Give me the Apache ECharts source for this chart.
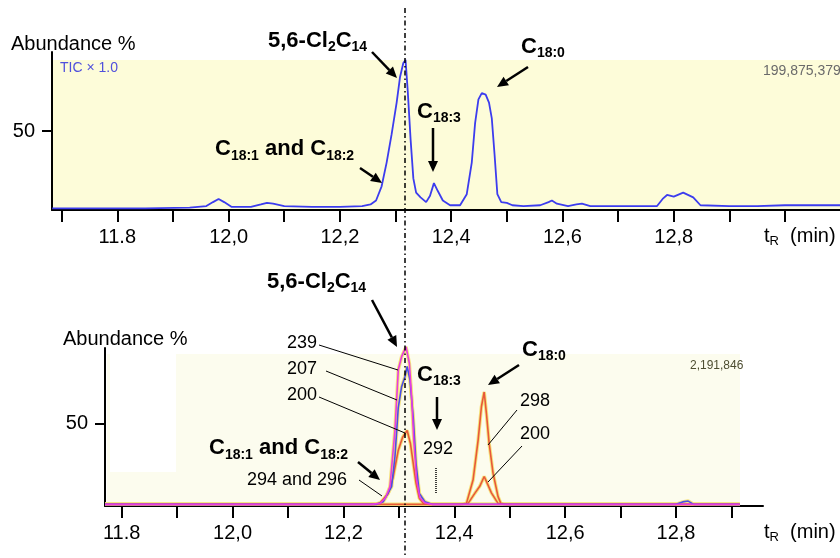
<!DOCTYPE html>
<html><head><meta charset="utf-8">
<script src="https://cdn.jsdelivr.net/npm/echarts@6/dist/echarts.min.js"></script>
<style>html,body{margin:0;padding:0;background:#fff}#c{width:840px;height:558px}</style>
</head><body><div id="c"></div>
<script>
// ---------- DATA ----------
// Top panel: total ion current (TIC), retention time (min) vs abundance (%)
const ticTime = [11.683, 11.75, 11.85, 11.93, 11.96, 11.972, 11.982, 11.992, 12.005, 12.04, 12.058, 12.069, 12.08, 12.10, 12.15, 12.20, 12.24, 12.255, 12.265, 12.275, 12.284, 12.293, 12.302, 12.308, 12.314, 12.318, 12.322, 12.327, 12.332, 12.337, 12.345, 12.355, 12.362, 12.369, 12.376, 12.385, 12.398, 12.416, 12.428, 12.437, 12.443, 12.449, 12.455, 12.462, 12.468, 12.473, 12.478, 12.483, 12.49, 12.50, 12.51, 12.53, 12.56, 12.575, 12.581, 12.59, 12.61, 12.625, 12.635, 12.65, 12.70, 12.77, 12.78, 12.788, 12.80, 12.817, 12.835, 12.848, 12.90, 12.95, 13.00, 13.05, 13.099];
const ticAbund = [1, 1, 1, 1.5, 2.5, 5, 7, 5, 2, 2, 3.5, 4.5, 4, 2.5, 2, 2, 2.5, 3.5, 6, 15, 30, 48, 68, 84, 93, 95, 75, 45, 20, 11, 8, 5, 9, 17, 12, 6, 3, 3, 10, 30, 55, 70, 74, 73, 68, 58, 35, 10, 5, 4.5, 3, 2.5, 3, 5, 6, 4, 2.5, 3.5, 4, 2.5, 2.5, 2.5, 7, 9.5, 8.5, 11, 8, 3, 2.5, 2.5, 3, 3, 3];

// Bottom panel: extracted ions
const ion239Time = [11.77, 12.25, 12.266, 12.276, 12.284, 12.293, 12.299, 12.305, 12.313, 12.319, 12.323, 12.327, 12.332, 12.338, 12.347, 12.36, 12.915];
const ion239Abund = [1, 1, 1.6, 5, 11.8, 46, 83, 91, 97, 87, 67, 40, 16, 5, 1.8, 1, 1];
const ion207Time = [11.77, 12.26, 12.272, 12.287, 12.293, 12.299, 12.305, 12.311, 12.315, 12.32, 12.326, 12.331, 12.337, 12.347, 12.36, 12.80, 12.812, 12.822, 12.832, 12.915];
const ion207Abund = [1, 1, 2.6, 11.8, 30, 60, 72.7, 78.8, 85, 77, 54, 26, 7.7, 2.6, 1, 1, 2.5, 3, 1, 1];
const ion200Time = [11.77, 12.255, 12.266, 12.281, 12.29, 12.299, 12.307, 12.315, 12.321, 12.326, 12.331, 12.337, 12.344, 12.355, 12.415, 12.425, 12.437, 12.446, 12.454, 12.458, 12.467, 12.479, 12.49, 12.915];
const ion200Abund = [1, 1, 1.8, 7.7, 18, 34, 42, 46, 38, 26, 14, 4.7, 1.6, 1, 1, 1.6, 7.7, 12, 18, 15, 8, 1.6, 1, 1];
const ion298Time = [11.77, 12.41, 12.422, 12.434, 12.443, 12.449, 12.454, 12.458, 12.463, 12.47, 12.479, 12.484, 12.495, 12.915];
const ion298Abund = [1, 1, 1.6, 16, 40, 60.5, 69.5, 56.5, 38, 20, 5.7, 1.6, 1, 1];

// Axis ticks / labels
const topTickValues = [11.7, 11.8, 11.9, 12.0, 12.1, 12.2, 12.3, 12.4, 12.5, 12.6, 12.7, 12.8, 12.9, 13.0];
const botTickValues = [11.8, 11.9, 12.0, 12.1, 12.2, 12.3, 12.4, 12.5, 12.6, 12.7, 12.8, 12.9];
const xLabelValues = [11.8, 12.0, 12.2, 12.4, 12.6, 12.8];
const xLabelTexts = ['11.8', '12,0', '12,2', '12,4', '12,6', '12,8'];
const yLabelValues = [50];
const yLabelTexts = ['50'];

// ---------- RENDER ----------
const FONT = '"Liberation Sans", Arial, Helvetica, sans-serif';
const mctx = document.createElement('canvas').getContext('2d');
function tw(s, size, bold) { mctx.font = (bold ? 'bold ' : '') + size + 'px ' + FONT; return mctx.measureText(s).width; }
function txt(s, x, base, size, o) {
  o = o || {};
  const f = (o.bold ? 'bold ' : '') + size + 'px ' + FONT;
  return { type: 'text', z: 100, silent: true,
    style: { text: s, x: x, y: base - 0.35 * size, font: f, fill: o.color || '#000',
      textAlign: o.align || 'left', align: o.align || 'left', textVerticalAlign: 'middle', verticalAlign: 'middle' } };
}
function richLabel(x, base, parts, mainSize, subSize, shift, bold) {
  const els = []; let cx = x;
  parts.forEach(function (p) {
    const size = p[1] ? subSize : mainSize;
    els.push(txt(p[0], cx, base + (p[1] ? shift : 0), size, { bold: bold }));
    cx += tw(p[0], size, bold);
  });
  return els;
}
function arrow(x1, y1, x2, y2) {
  const a = Math.atan2(y2 - y1, x2 - x1), L = 11, W = 5;
  const bx = x2 - L * Math.cos(a), by = y2 - L * Math.sin(a);
  const px = -Math.sin(a) * W, py = Math.cos(a) * W;
  return [
    { type: 'line', z: 100, silent: true, shape: { x1: x1, y1: y1, x2: bx, y2: by }, style: { stroke: '#000', lineWidth: 2.5 } },
    { type: 'polygon', z: 100, silent: true, shape: { points: [[x2, y2], [bx + px, by + py], [bx - px, by - py]] }, style: { fill: '#000' } }
  ];
}
function leader(x1, y1, x2, y2) {
  return { type: 'line', z: 100, silent: true, shape: { x1: x1, y1: y1, x2: x2, y2: y2 }, style: { stroke: '#000', lineWidth: 1 } };
}
function pairs(t, v) { return t.map(function (x, i) { return [x, v[i]]; }); }
function xFmt(v) {
  for (let i = 0; i < xLabelValues.length; i++) if (Math.abs(v - xLabelValues[i]) < 1e-6) return xLabelTexts[i];
  return '';
}
function yFmt(v) {
  for (let i = 0; i < yLabelValues.length; i++) if (Math.abs(v - yLabelValues[i]) < 1e-6) return yLabelTexts[i];
  return '';
}

const chart = echarts.init(document.getElementById('c'), null, { renderer: 'canvas' });

function xAxisDef(gi, min, max, ticks) {
  return { type: 'value', gridIndex: gi, min: min, max: max,
    axisLine: { show: true, onZero: false, lineStyle: { color: '#000', width: 2 } },
    axisTick: { show: true, customValues: ticks, length: 12, lineStyle: { color: '#000', width: 2 } },
    axisLabel: { show: true, customValues: xLabelValues, formatter: xFmt, fontSize: 20, fontFamily: FONT, color: '#000', margin: 17 },
    splitLine: { show: false } };
}
function yAxisDef(gi, max) {
  return { type: 'value', gridIndex: gi, min: 0, max: max,
    axisLine: { show: true, onZero: false, lineStyle: { color: '#000', width: 2 } },
    axisTick: { show: true, customValues: yLabelValues, length: 10, lineStyle: { color: '#000', width: 2 } },
    axisLabel: { show: true, customValues: yLabelValues, formatter: yFmt, fontSize: 20, fontFamily: FONT, color: '#000', margin: 17 },
    splitLine: { show: false } };
}
function lineSeries(xi, data, color, width, z) {
  return { type: 'line', xAxisIndex: xi, yAxisIndex: xi, data: data, showSymbol: false, symbol: 'none',
    clip: false, silent: true, z: z, lineStyle: { color: color, width: width }, animation: false };
}
const HALO = '#f5e37c';
const series = [
  lineSeries(0, pairs(ticTime, ticAbund), '#3c3cee', 1.8, 5),
  lineSeries(1, pairs(ion298Time, ion298Abund), HALO, 3.5, 3),
  lineSeries(1, pairs(ion200Time, ion200Abund), HALO, 3.5, 3),
  lineSeries(1, pairs(ion207Time, ion207Abund), HALO, 3.5, 3),
  lineSeries(1, pairs(ion239Time, ion239Abund), HALO, 3.5, 3),
  lineSeries(1, pairs(ion298Time, ion298Abund), '#e8583a', 1.6, 5),
  lineSeries(1, pairs(ion200Time, ion200Abund), '#e8583a', 1.6, 5),
  lineSeries(1, pairs(ion207Time, ion207Abund), '#4a4ee8', 1.6, 6),
  lineSeries(1, pairs(ion239Time, ion239Abund), '#e83ce0', 1.6, 7)
];

let g = [];
// panel backgrounds
g.push({ type: 'rect', z: -5, silent: true, shape: { x: 52, y: 60, width: 788, height: 150 }, style: { fill: '#fdfcd9' } });
g.push({ type: 'rect', z: -5, silent: true, shape: { x: 107, y: 354, width: 633, height: 152 }, style: { fill: '#fcfcee' } });
g.push({ type: 'rect', z: -4, silent: true, shape: { x: 110, y: 354, width: 66, height: 118 }, style: { fill: '#ffffff' } });
// instrument texts
g.push(txt('TIC \u00d7 1.0', 60, 73, 14, { color: '#5050dc' }));
g.push(txt('199,875,379', 763, 76, 14, { color: '#6a6a6a' }));
g.push(txt('2,191,846', 690, 370, 12, { color: '#4d4d30' }));
// axis titles
g.push(txt('Abundance %', 11, 51, 20));
g.push(txt('Abundance %', 63, 346, 20));
g = g.concat(richLabel(764, 243, [['t', 0], ['R', 1], ['  (min)', 0]], 20, 13, 3, false));
g = g.concat(richLabel(764, 539, [['t', 0], ['R', 1], ['  (min)', 0]], 20, 13, 3, false));
// dash-dot retention marker
g.push({ type: 'line', z: 100, silent: true, shape: { x1: 405, y1: 8, x2: 405, y2: 558 }, style: { stroke: '#000', lineWidth: 1.5, lineDash: [5, 3, 1.5, 3] } });
// top annotations
const CL = [['5,6-Cl', 0], ['2', 1], ['C', 0], ['14', 1]];
const C181 = [['C', 0], ['18:1', 1], [' and C', 0], ['18:2', 1]];
g = g.concat(richLabel(268, 49, CL, 22, 14, 3.5, true));
g = g.concat(richLabel(521, 55, [['C', 0], ['18:0', 1]], 22, 14, 3.5, true));
g = g.concat(richLabel(417, 120, [['C', 0], ['18:3', 1]], 22, 14, 3.5, true));
g = g.concat(richLabel(215, 157, C181, 22, 14, 4, true));
g = g.concat(arrow(372, 52, 397, 78), arrow(528, 67, 497, 87), arrow(433, 128, 433, 172), arrow(360, 168, 382, 183));
// bottom annotations
g = g.concat(richLabel(267, 290, CL, 22, 14, 3.5, true));
g = g.concat(richLabel(522, 358, [['C', 0], ['18:0', 1]], 22, 14, 3.5, true));
g = g.concat(richLabel(417, 383, [['C', 0], ['18:3', 1]], 22, 14, 3.5, true));
g = g.concat(richLabel(209, 456, C181, 22, 14, 4, true));
g = g.concat(arrow(372, 300, 397, 347), arrow(519, 365, 488, 385), arrow(437, 397, 437, 430), arrow(358, 462, 380, 480));
g.push(txt('239', 287, 349, 18), txt('207', 287, 375, 18), txt('200', 287, 401, 18));
g.push(txt('294 and 296', 247, 486, 18), txt('292', 423, 455, 18), txt('298', 520, 407, 18), txt('200', 520, 440, 18));
g.push(leader(319, 345, 398, 370), leader(326, 371, 397, 400), leader(319, 397, 405, 433), leader(359, 480, 382, 496));
g.push(leader(517, 410, 488, 445), leader(522, 446, 488, 482));
g.push({ type: 'line', z: 100, silent: true, shape: { x1: 436, y1: 468, x2: 436, y2: 493 }, style: { stroke: '#000', lineWidth: 1.5, lineDash: [1, 1] } });

chart.setOption({
  animation: false,
  backgroundColor: '#ffffff',
  grid: [
    { left: 52, top: 52, width: 788, height: 158 },
    { left: 105, top: 348, width: 658, height: 158 }
  ],
  xAxis: [xAxisDef(0, 11.6826, 13.0988, topTickValues), xAxisDef(1, 11.7699, 12.957, botTickValues)],
  yAxis: [yAxisDef(0, 100), yAxisDef(1, 96.3)],
  series: series,
  graphic: { elements: g }
});
</script></body></html>
